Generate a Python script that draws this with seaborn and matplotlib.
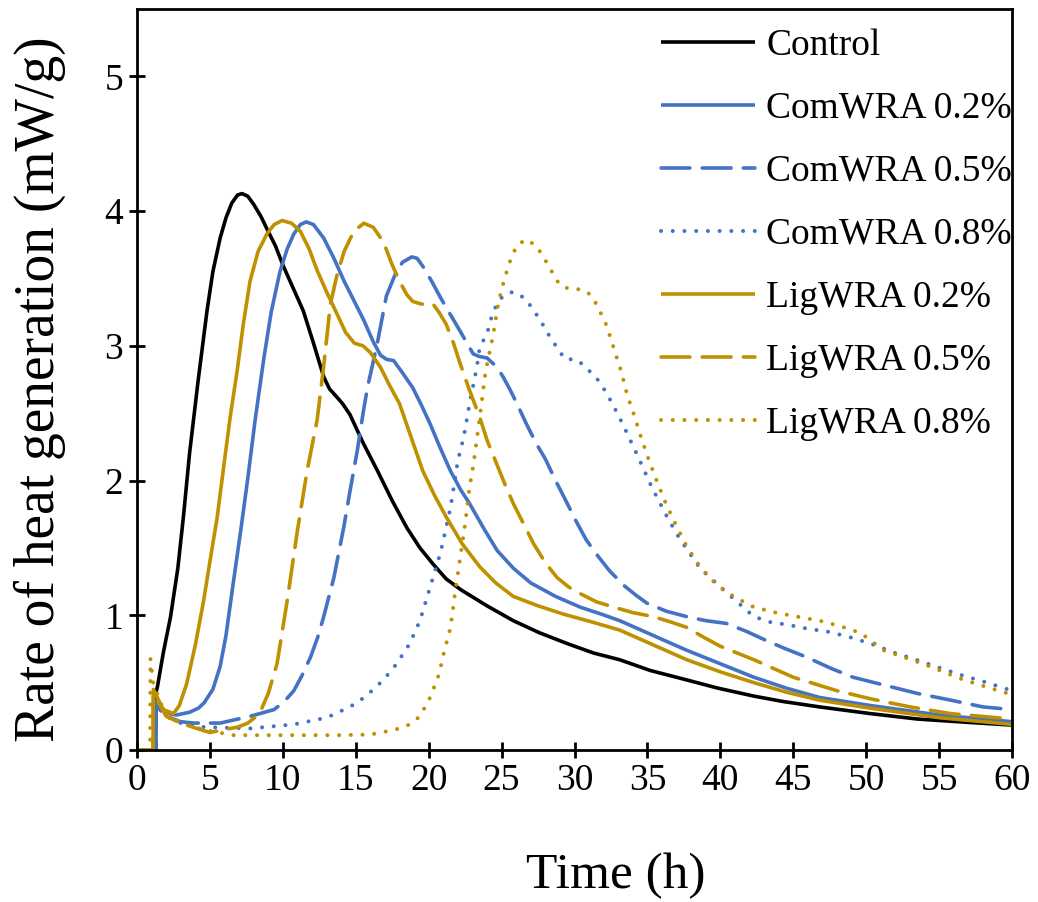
import numpy as np
import pandas as pd
import matplotlib
matplotlib.use("Agg")
import matplotlib.pyplot as plt
import seaborn as sns

# ---------------- data ----------------
control_t = [0, 1.2, 1.22, 1.4, 1.8, 2.3, 2.8, 3.2, 3.6, 4.2, 4.8, 5.2, 5.7, 6.1, 6.5, 6.9, 7.2,
             7.6, 8.0, 8.5, 8.9, 9.5, 10.0, 10.7, 11.4, 12.1, 12.8, 13.2, 13.7, 14.1, 14.6,
             15.5, 16.5, 17.5, 18.5, 19.4, 20.3, 21.2, 22.2, 24.0, 25.8, 27.6, 29.5, 31.3,
             33.1, 35.2, 37.7, 39.8, 42.3, 44.3, 46.8, 50.3, 53.5, 57.0, 60.0]
control_y = [0, 0, 0.39, 0.47, 0.72, 0.99, 1.35, 1.75, 2.2, 2.75, 3.26, 3.55, 3.8, 3.95, 4.06,
             4.12, 4.13, 4.11, 4.05, 3.96, 3.87, 3.74, 3.6, 3.43, 3.26, 3.02, 2.77, 2.68,
             2.62, 2.57, 2.49, 2.28, 2.07, 1.85, 1.65, 1.5, 1.38, 1.27, 1.19, 1.07, 0.96,
             0.87, 0.79, 0.72, 0.67, 0.59, 0.52, 0.46, 0.40, 0.36, 0.32, 0.27, 0.23, 0.205,
             0.185]

com02_t = [0, 1.3, 1.32, 1.8, 2.2, 2.7, 3.6, 4.2, 4.6, 5.2, 5.7, 6.1, 6.6, 7.1, 7.6, 8.1, 8.7,
           9.2, 9.8, 10.3, 10.75, 11.2, 11.6, 12.1, 12.8, 13.5, 14.2, 14.9, 15.55, 16.2,
           16.7, 17.1, 17.6, 18.2, 18.9, 19.5, 20.1, 20.8, 21.5, 22.2, 22.8, 23.8, 24.7,
           25.8, 27.0, 28.7, 30.4, 31.8, 33.1, 35.4, 37.7, 40.0, 42.3, 44.5, 46.8, 50.3,
           55.0, 60.0]
com02_y = [0, 0, 0.37, 0.3, 0.27, 0.26, 0.28, 0.31, 0.35, 0.45, 0.62, 0.85, 1.24, 1.62, 2.02,
           2.45, 2.91, 3.25, 3.55, 3.72, 3.83, 3.9, 3.92, 3.9, 3.8, 3.65, 3.48, 3.33, 3.19,
           3.03, 2.93, 2.9, 2.89, 2.8, 2.69, 2.56, 2.42, 2.24, 2.07, 1.93, 1.83, 1.64, 1.48,
           1.35, 1.24, 1.14, 1.06, 1.01, 0.96, 0.85, 0.74, 0.64, 0.54, 0.46, 0.39, 0.33,
           0.26, 0.21]

com05_t = [0, 1.3, 1.32, 2.0, 3.0, 3.9, 5.7, 7.75, 9.4, 10.1, 10.75, 11.3, 11.9, 12.4, 12.8,
           13.5, 14.17, 14.6, 15.1, 15.5, 15.8, 16.46, 17.1, 17.7, 18.2, 18.84, 19.2, 19.6,
           20.2, 20.8, 21.5, 22.15, 23.05, 23.5, 24.0, 24.7, 25.1, 25.6, 26.1, 26.7, 27.4,
           28.0, 28.7, 29.5, 30.1, 30.8, 31.6, 32.4, 33.4, 34.2, 34.96, 36.3, 37.7, 39.0,
           40.4, 41.8, 43.2, 44.5, 45.9, 47.5, 49.1, 51.3, 53.5, 55.8, 58.0, 60.0]
com05_y = [0, 0, 0.33, 0.25, 0.21, 0.2, 0.2, 0.25, 0.30, 0.36, 0.44, 0.55, 0.69, 0.84, 0.99,
           1.28, 1.65, 1.92, 2.22, 2.5, 2.69, 3.01, 3.37, 3.53, 3.62, 3.66, 3.65, 3.59,
           3.48, 3.36, 3.23, 3.11, 2.94, 2.92, 2.91, 2.84, 2.77, 2.67, 2.56, 2.42, 2.27,
           2.16, 2.0, 1.83, 1.7, 1.56, 1.44, 1.33, 1.22, 1.15, 1.09, 1.03, 0.99, 0.96,
           0.94, 0.88, 0.81, 0.75, 0.69, 0.61, 0.54, 0.48, 0.42, 0.37, 0.32, 0.30]

com08_t = [0, 1.3, 1.32, 2.0, 3.0, 4.6, 7.75, 10.75, 13.0, 14.0, 15.1, 16.0, 16.9, 17.8, 18.7,
           19.4, 20.1, 20.8, 21.5, 22.0, 22.4, 22.8, 23.3, 23.5, 24.0, 24.4, 24.8, 25.1,
           25.4, 25.8, 26.1, 26.7, 27.6, 28.4, 29.35, 30.1, 30.7, 31.75, 32.6, 33.3, 34.3,
           35.3, 36.4, 37.2, 38.6, 40.2, 42.3, 43.4, 44.6, 46.0, 47.3, 48.8, 50.3, 52.0,
           53.7, 55.3, 56.7, 58.0, 60.0]
com08_y = [0, 0, 0.33, 0.25, 0.2, 0.17, 0.16, 0.19, 0.24, 0.29, 0.35, 0.43, 0.52, 0.64, 0.79,
           0.96, 1.21, 1.46, 1.8, 2.15, 2.32, 2.57, 2.84, 2.99, 3.09, 3.25, 3.33, 3.37,
           3.39, 3.4, 3.39, 3.34, 3.2, 3.05, 2.9, 2.9, 2.85, 2.73, 2.57, 2.42, 2.19,
           1.95, 1.72, 1.57, 1.35, 1.19, 0.99, 0.95, 0.93, 0.9, 0.88, 0.84, 0.79, 0.72,
           0.66, 0.6, 0.55, 0.51, 0.44]

lig02_t = [0, 1.1, 1.12, 1.8, 2.5, 2.9, 3.4, 4.0, 4.57, 5.0, 5.5, 6.0, 6.4, 6.86, 7.3, 7.75,
           8.3, 8.9, 9.4, 9.95, 10.6, 11.2, 11.8, 12.35, 13.0, 13.7, 14.3, 14.9, 15.5, 16.0,
           16.7, 17.3, 18.0, 18.8, 19.6, 20.4, 21.2, 22.3, 23.5, 24.6, 25.8, 27.5, 29.2,
           31.2, 33.1, 35.4, 37.7, 40.0, 42.3, 44.5, 46.8, 50.3, 55.0, 60.0]
lig02_y = [0, 0, 0.45, 0.3, 0.27, 0.33, 0.49, 0.78, 1.11, 1.4, 1.73, 2.15, 2.48, 2.81, 3.17,
           3.48, 3.7, 3.83, 3.9, 3.93, 3.91, 3.85, 3.72, 3.56, 3.4, 3.24, 3.1, 3.02, 3.0,
           2.95, 2.84, 2.71, 2.57, 2.32, 2.07, 1.89, 1.73, 1.53, 1.36, 1.24, 1.14, 1.07,
           1.01, 0.95, 0.89, 0.78, 0.67, 0.58, 0.50, 0.43, 0.37, 0.31, 0.24, 0.19]

lig05_t = [0, 1.1, 1.12, 2.0, 3.0, 4.1, 5.0, 5.9, 6.9, 7.6, 8.4, 9.0, 9.6, 10.3, 11.0, 11.66,
           12.35, 12.8, 13.26, 13.7, 14.2, 14.86, 15.55, 16.2, 16.9, 17.5, 18.0, 18.5, 18.9,
           19.5, 20.3, 20.7, 21.2, 21.7, 22.15, 22.8, 23.5, 24.0, 24.6, 25.2, 25.8, 26.5,
           27.2, 28.0, 28.8, 29.6, 30.4, 31.5, 32.7, 34.0, 35.4, 36.6, 37.7, 38.8, 40.0,
           42.3, 45.0, 48.0, 50.3, 53.0, 55.8, 60.0]
lig05_y = [0, 0, 0.42, 0.25, 0.2, 0.16, 0.13, 0.15, 0.17, 0.2, 0.27, 0.42, 0.64, 1.11, 1.63,
           2.07, 2.45, 2.85, 3.31, 3.52, 3.7, 3.85, 3.91, 3.88, 3.77, 3.6, 3.48, 3.38, 3.33,
           3.31, 3.31, 3.25, 3.16, 3.02, 2.87, 2.67, 2.47, 2.3, 2.14, 1.98, 1.83, 1.68,
           1.53, 1.39, 1.28, 1.21, 1.16, 1.1, 1.06, 1.02, 0.99, 0.95, 0.91, 0.84, 0.77,
           0.67, 0.54, 0.44, 0.38, 0.32, 0.27, 0.23]

lig08_t = [0, 0.9, 0.92, 1.1, 1.8, 2.95, 3.6, 4.6, 6.6, 10.0, 14.0, 16.0, 17.2, 18.0, 18.7,
           19.4, 20.1, 20.7, 21.06, 21.5, 21.8, 22.15, 22.5, 22.8, 23.07, 23.5, 23.9, 24.4,
           24.8, 25.2, 25.7, 26.1, 26.7, 27.4, 27.8, 28.2, 28.6, 29.0, 29.7, 30.5, 31.1,
           31.55, 32.2, 32.7, 33.2, 33.6, 34.1, 34.6, 35.1, 35.7, 36.3, 37.0, 37.7, 38.6,
           39.7, 40.9, 42.3, 43.8, 45.25, 46.8, 48.2, 49.6, 51.2, 53.9, 56.7, 60.0]
lig08_y = [0, 0, 0.68, 0.5, 0.3, 0.2, 0.18, 0.15, 0.11, 0.11, 0.11, 0.115, 0.14, 0.16, 0.19,
           0.25, 0.39, 0.56, 0.73, 0.91, 1.16, 1.42, 1.68, 1.95, 2.12, 2.47, 2.81, 3.07,
           3.33, 3.5, 3.67, 3.75, 3.79, 3.74, 3.67, 3.6, 3.52, 3.45, 3.42, 3.42, 3.38,
           3.3, 3.15, 2.98, 2.81, 2.64, 2.48, 2.31, 2.15, 1.98, 1.82, 1.66, 1.51, 1.36,
           1.23, 1.14, 1.06, 1.02, 0.99, 0.96, 0.92, 0.87, 0.74, 0.64, 0.52, 0.41]

series_names = ["Control", "ComWRA 0.2%", "ComWRA 0.5%", "ComWRA 0.8%",
                "LigWRA 0.2%", "LigWRA 0.5%", "LigWRA 0.8%"]
series_t = [control_t, com02_t, com05_t, com08_t, lig02_t, lig05_t, lig08_t]
series_y = [control_y, com02_y, com05_y, com08_y, lig02_y, lig05_y, lig08_y]

x_ticks = list(range(0, 61, 5))
y_ticks = [0, 1, 2, 3, 4, 5]

# ---------------- style ----------------
BLUE = "#4472C4"
GOLD = "#BF9000"
colors = ["black", BLUE, BLUE, BLUE, GOLD, GOLD, GOLD]
solid = "-"
dashed = (0, (8, 3.4))
dotted = (0, (0.01, 2.9))
styles = [solid, solid, dashed, dotted, solid, dashed, dotted]
widths = [2.6, 2.6, 2.6, 2.9, 2.6, 2.6, 2.9]

sns.set_theme(style="ticks")
plt.rcParams["font.family"] = ["Liberation Serif", "DejaVu Serif"]
plt.rcParams["text.color"] = "black"
plt.rcParams["axes.labelcolor"] = "black"

fig = plt.figure(figsize=(10.38, 9.02), dpi=100)
ax = fig.add_axes([0.132, 0.1685, 0.843, 0.8215])

for name, t, y, c, ls, lw in zip(series_names, series_t, series_y, colors, styles, widths):
    df = pd.DataFrame({"t": t, "y": y})
    sns.lineplot(data=df, x="t", y="y", ax=ax, color=c, linestyle=ls,
                 linewidth=lw, estimator=None, sort=False, label=name,
                 dash_capstyle="round", solid_capstyle="butt", solid_joinstyle="round")

ax.set_xlim(0, 60)
ax.set_ylim(0, 5.5)
ax.set_xticks(x_ticks)
ax.set_yticks(y_ticks)
ax.set_xticklabels([str(v) for v in x_ticks])
ax.set_yticklabels([str(v) for v in y_ticks])
ax.tick_params(axis="both", direction="inout", length=12, width=2, labelsize=27,
               colors="black", pad=4)
for s in ax.spines.values():
    s.set_linewidth(2)
    s.set_color("black")
    s.set_visible(True)

ax.set_xlabel("Time (h)", fontsize=37, color="black")
ax.set_ylabel("Rate of heat generation (mW/g)", fontsize=40, color="black")
ax.xaxis.set_label_coords(0.547, -0.138)
ax.yaxis.set_label_coords(-0.081, 0.487)

leg = ax.legend(loc="upper right", bbox_to_anchor=(1.0, 0.974), frameon=False,
                fontsize=27, handlelength=2.5, handletextpad=0.3, labelspacing=0.76,
                borderpad=0.0, borderaxespad=0.0)
for txt in leg.get_texts():
    txt.set_color("black")

fig.savefig("out.png", dpi=100)
